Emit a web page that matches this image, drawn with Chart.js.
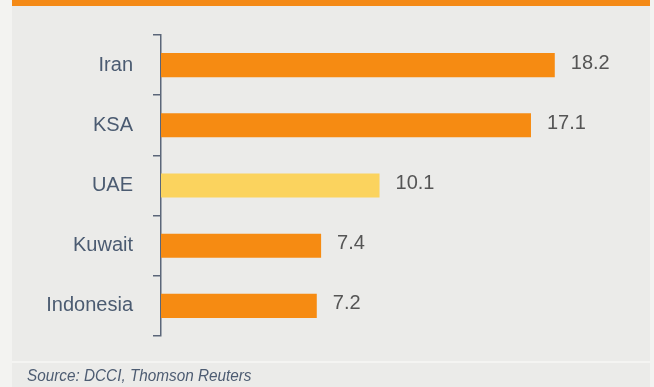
<!DOCTYPE html>
<html>
<head>
<meta charset="utf-8">
<script src="https://cdn.jsdelivr.net/npm/chart.js@4"></script>
<style>
  html, body { margin: 0; padding: 0; }
  body { width: 654px; height: 387px; background: #f3f3f1; position: relative; overflow: hidden; }
  #panel { position: absolute; left: 12px; top: 0; width: 638px; height: 387px; background: #ebebe9; }
  #header { position: absolute; left: 12px; top: 0; width: 638px; height: 6px; background: #f48a17; }
  #rule { position: absolute; left: 12px; top: 361px; width: 638px; height: 2px; background: #f4f4f2; }
  #chart-wrap { position: absolute; left: 0; top: 0; width: 654px; height: 387px; }
  #source { position: absolute; left: 27px; top: 366px; font: italic 17px "Liberation Sans", Arial, sans-serif;
            color: #4d5c72; transform: scaleX(0.9); transform-origin: left top; white-space: nowrap; }
</style>
</head>
<body>
<div id="panel"></div>
<div id="header"></div>
<div id="rule"></div>
<div id="chart-wrap"><canvas id="chart" width="654" height="387"></canvas></div>
<div id="source">Source: DCCI, Thomson Reuters</div>
<script>
// --- Data ---
const countries = ["Iran", "KSA", "UAE", "Kuwait", "Indonesia"];
const values = [18.2, 17.1, 10.1, 7.4, 7.2];
const barColors = ["#f68b12", "#f68b12", "#fbd35e", "#f68b12", "#f68b12"];

// --- Value labels after each bar ---
const valueLabels = {
  id: 'valueLabels',
  afterDatasetsDraw(chart) {
    const ctx = chart.ctx;
    const meta = chart.getDatasetMeta(0);
    ctx.save();
    ctx.font = '20px "Liberation Sans", Arial, sans-serif';
    ctx.fillStyle = '#555555';
    ctx.textAlign = 'left';
    ctx.textBaseline = 'middle';
    meta.data.forEach((bar, i) => {
      ctx.fillText(values[i].toFixed(1), bar.x + 16, bar.y - 2);
    });
    ctx.restore();
  }
};

// --- Chart ---
const ctx = document.getElementById("chart").getContext("2d");
new Chart(ctx, {
  type: 'bar',
  data: {
    labels: countries,
    datasets: [{ data: values, backgroundColor: barColors, barPercentage: 0.8, categoryPercentage: 0.5 }]
  },
  options: {
    indexAxis: 'y',
    responsive: false,
    animation: false,
    layout: { padding: { top: 35, bottom: 51, left: 0, right: 17 } },
    plugins: { legend: { display: false }, tooltip: { enabled: false } },
    scales: {
      x: { display: false, min: 0, max: 22 },
      y: {
        afterFit: (scale) => { scale.width = 161; },
        grid: { offset: true, drawOnChartArea: false, tickLength: 8, color: '#5b6679', lineWidth: 1.5 },
        border: { color: '#5b6679', width: 1.5 },
        ticks: {
          padding: 20,
          color: '#4b5b71',
          font: { family: '"Liberation Sans", Arial, sans-serif', size: 20 }
        }
      }
    }
  },
  plugins: [valueLabels]
});
</script>
</body>
</html>
